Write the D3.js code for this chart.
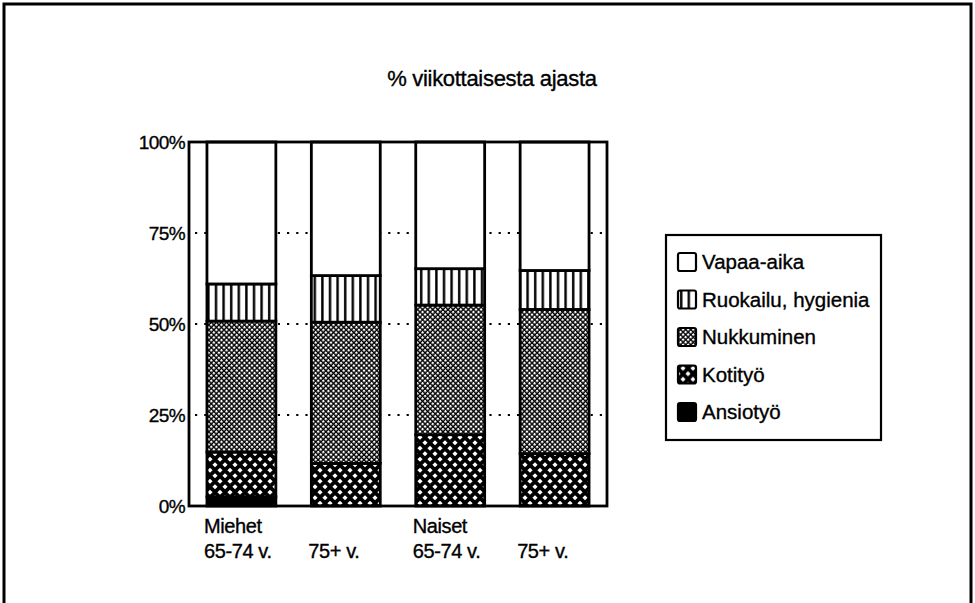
<!DOCTYPE html>
<html>
<head>
<meta charset="utf-8">
<script src="https://cdn.jsdelivr.net/npm/d3@7"></script>
<style>
  body { margin: 0; background: #fff; }
  text { font-family: "Liberation Sans", Arial, sans-serif; fill: #000; stroke: #000; stroke-width: 0.35px; }
</style>
</head>
<body>
<div id="chart"></div>
<script>
// Data (% of weekly time)
const groups = ["Miehet 65-74", "Miehet 75+", "Naiset 65-74", "Naiset 75+"];
const labelTop = ["Miehet", "", "Naiset", ""];
const labelBottom = ["65-74 v.", "75+ v.", "65-74 v.", "75+ v."];
const series = ["Ansiotyö", "Kotityö", "Nukkuminen", "Ruokailu, hygienia", "Vapaa-aika"];
const ansiotyo = [2.5, 0, 0, 0];
const kotityo = [12.3, 11.7, 19.6, 14.4];
const nukkuminen = [36.0, 38.8, 35.6, 39.6];
const ruokailu = [10.2, 12.8, 10.0, 10.7];
const vapaaaika = [39.0, 36.7, 34.8, 35.3];
const yTicks = [0, 25, 50, 75, 100];

const width = 975, height = 603;
const plot = { left: 189, right: 607, top: 142, bottom: 506 };

const svg = d3.select("#chart")
    .append("svg")
    .attr("width", width)
    .attr("height", height);

// Fill patterns
const defs = svg.append("defs");

const stripes = defs.append("pattern")
    .attr("id", "p-ruoka").attr("patternUnits", "userSpaceOnUse")
    .attr("width", 7.6).attr("height", 10);
stripes.append("rect").attr("width", 7.6).attr("height", 10).attr("fill", "#fff");
stripes.append("rect").attr("x", 2).attr("width", 2.4).attr("height", 10).attr("fill", "#000");

// small white diamonds on black -> dark grey texture
const fine = defs.append("pattern")
    .attr("id", "p-nukku").attr("patternUnits", "userSpaceOnUse")
    .attr("width", 3.6).attr("height", 3.6)
    .attr("patternTransform", "rotate(45)");
fine.append("rect").attr("width", 3.6).attr("height", 3.6).attr("fill", "#000");
fine.append("rect").attr("width", 2.2).attr("height", 2.2).attr("fill", "#fff");

const diamonds = defs.append("pattern")
    .attr("id", "p-koti").attr("patternUnits", "userSpaceOnUse")
    .attr("width", 10).attr("height", 11);
diamonds.append("rect").attr("width", 10).attr("height", 11).attr("fill", "#000");
const diamond = (cx, cy, r) => `M${cx},${cy - r}L${cx + r},${cy}L${cx},${cy + r}L${cx - r},${cy}Z`;
[[5, 2.75], [0, 8.25], [10, 8.25]].forEach(([cx, cy]) => {
    diamonds.append("path").attr("d", diamond(cx, cy, 2.6)).attr("fill", "#fff");
});

const fills = {
    "Ansiotyö": "#000",
    "Kotityö": "url(#p-koti)",
    "Nukkuminen": "url(#p-nukku)",
    "Ruokailu, hygienia": "url(#p-ruoka)",
    "Vapaa-aika": "#fff"
};

// Outer frame
svg.append("rect")
    .attr("x", 4).attr("y", 4)
    .attr("width", 967).attr("height", 640)
    .attr("fill", "none").attr("stroke", "#000").attr("stroke-width", 3);

// Title
svg.append("text")
    .attr("x", 492).attr("y", 86)
    .attr("text-anchor", "middle")
    .style("font-size", "22px")
    .style("letter-spacing", "-0.3px")
    .text("% viikottaisesta ajasta");

// Scales
const x = d3.scaleBand()
    .domain(groups)
    .range([plot.left, plot.right])
    .paddingInner(0.34)
    .paddingOuter(0.172);

const y = d3.scaleLinear()
    .domain([0, 100])
    .range([plot.bottom, plot.top]);

// Dotted gridlines (drawn under the bars)
svg.append("g")
    .selectAll("line")
    .data(yTicks.filter(t => t > 0 && t < 100))
    .enter()
    .append("line")
    .attr("x1", plot.left + 6).attr("x2", plot.right)
    .attr("y1", d => y(d)).attr("y2", d => y(d))
    .attr("stroke", "#000")
    .attr("stroke-width", 2.2)
    .attr("stroke-dasharray", "2.2,7");

// Stacked bars
const rows = groups.map((g, i) => ({
    group: g,
    "Ansiotyö": ansiotyo[i],
    "Kotityö": kotityo[i],
    "Nukkuminen": nukkuminen[i],
    "Ruokailu, hygienia": ruokailu[i],
    "Vapaa-aika": vapaaaika[i]
}));
const stacked = d3.stack().keys(series)(rows);

svg.append("g")
    .selectAll("g")
    .data(stacked)
    .enter()
    .append("g")
    .attr("fill", d => fills[d.key])
    .selectAll("rect")
    .data(d => d.filter(s => s[1] - s[0] > 0))
    .enter()
    .append("rect")
    .attr("x", d => x(d.data.group))
    .attr("width", x.bandwidth())
    .attr("y", d => y(d[1]))
    .attr("height", d => y(d[0]) - y(d[1]))
    .attr("stroke", "#000")
    .attr("stroke-width", 2.8);

// Plot frame
svg.append("rect")
    .attr("x", plot.left).attr("y", plot.top)
    .attr("width", plot.right - plot.left)
    .attr("height", plot.bottom - plot.top)
    .attr("fill", "none")
    .attr("stroke", "#000")
    .attr("stroke-width", 2.8);

// Y axis labels
svg.append("g")
    .selectAll("text")
    .data(yTicks)
    .enter()
    .append("text")
    .attr("x", plot.left - 4)
    .attr("y", d => y(d) + 7)
    .attr("text-anchor", "end")
    .style("font-size", "19px")
    .style("letter-spacing", "-0.6px")
    .text(d => d + "%");

// X axis labels
const xl = svg.append("g");
xl.selectAll("text.top")
    .data(groups)
    .enter()
    .append("text")
    .attr("class", "top")
    .attr("x", d => x(d) - 3)
    .attr("y", 533)
    .style("font-size", "20px")
    .style("letter-spacing", "-0.4px")
    .text((d, i) => labelTop[i]);
xl.selectAll("text.bottom")
    .data(groups)
    .enter()
    .append("text")
    .attr("class", "bottom")
    .attr("x", d => x(d) - 3)
    .attr("y", 558)
    .style("font-size", "20px")
    .style("letter-spacing", "-0.4px")
    .text((d, i) => labelBottom[i]);

// Legend
const legend = svg.append("g");
legend.append("rect")
    .attr("x", 666).attr("y", 235)
    .attr("width", 215).attr("height", 205)
    .attr("fill", "#fff")
    .attr("stroke", "#000")
    .attr("stroke-width", 2.2);

const legendItems = series.slice().reverse();
const item = legend.selectAll("g.item")
    .data(legendItems)
    .enter()
    .append("g")
    .attr("class", "item")
    .attr("transform", (d, i) => `translate(678,${253 + i * 37.5})`);

item.append("rect")
    .attr("width", 18).attr("height", 18)
    .attr("rx", 2)
    .attr("fill", d => fills[d])
    .attr("stroke", "#000")
    .attr("stroke-width", 2.2);

item.append("text")
    .attr("x", 24)
    .attr("y", 16)
    .style("font-size", "20.5px")
    .text(d => d);
</script>
</body>
</html>
